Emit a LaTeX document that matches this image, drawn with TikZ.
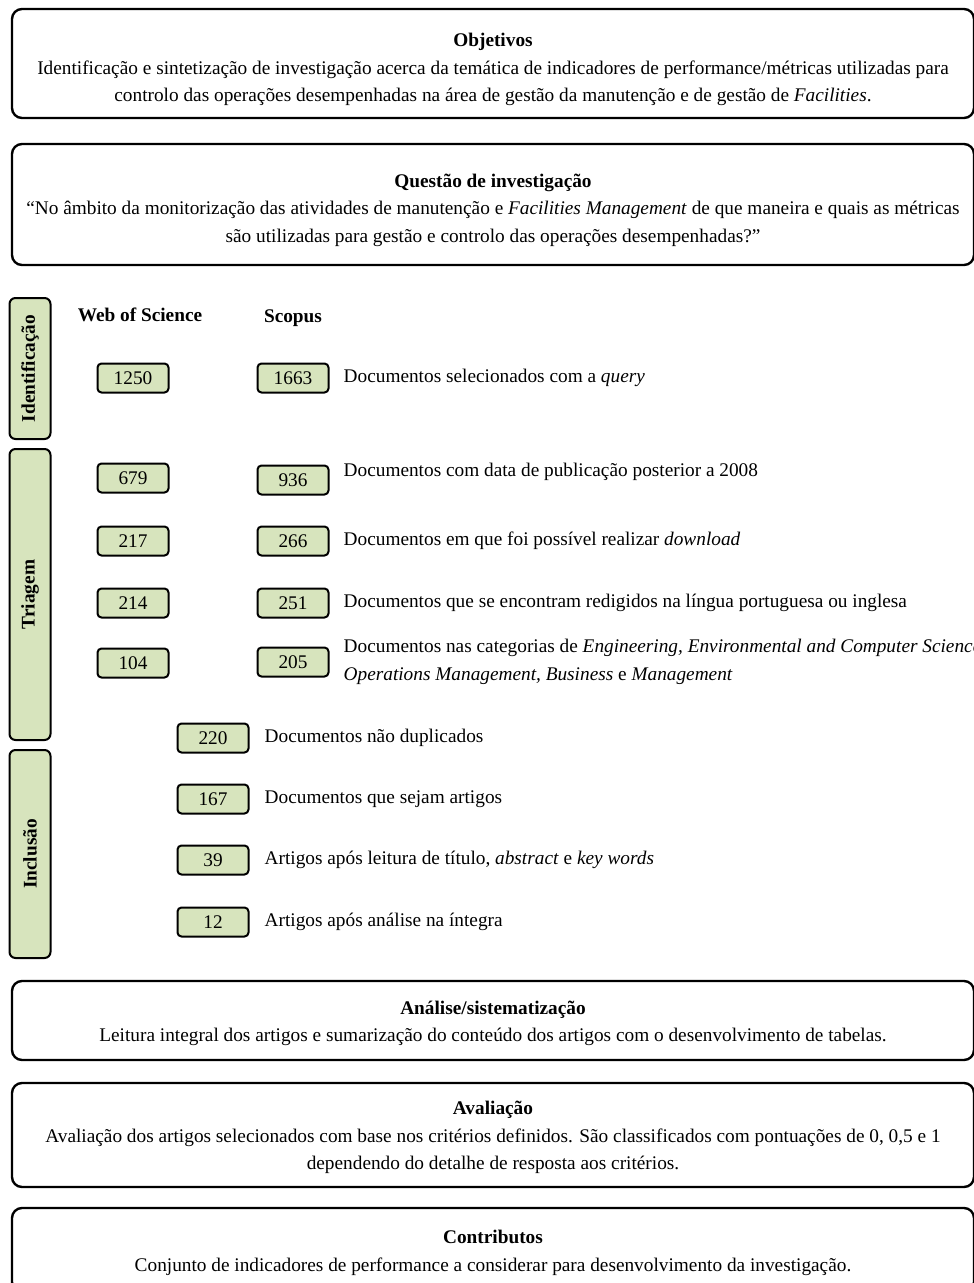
\documentclass[tikz,border=0pt]{standalone}
\usepackage{fontspec}
\setmainfont{Liberation Serif}
\usetikzlibrary{positioning}
\definecolor{stagegreen}{RGB}{215,228,189}

\begin{document}
\begin{tikzpicture}[x=1pt,y=-1pt,font=\fontsize{19.3}{27.5}\selectfont,node distance=14pt,
  bigbox/.style={draw,line width=2.4pt,rounded corners=10pt,minimum width=962pt,align=center,inner xsep=4pt},
  stage/.style={draw,line width=2pt,rounded corners=6pt,fill=stagegreen,minimum height=41pt,rotate=90,font=\fontsize{19.3}{22}\selectfont\bfseries},
  num/.style={draw,line width=2pt,rounded corners=4pt,fill=stagegreen,minimum width=71pt,minimum height=29pt,inner sep=0pt},
  lbl/.style={align=left,inner sep=0pt}]
  \useasboundingbox (0,0) rectangle (974,1283);
  % top boxes
  \node[bigbox,minimum height=109pt] (obj) at (493,63.5) {\rule{0pt}{26pt}\textbf{Objetivos}\\Identificação e sintetização de investigação acerca da temática de indicadores de performance/métricas utilizadas para\\controlo das operações desempenhadas na área de gestão da manutenção e de gestão de \textit{Facilities}.};
  \node[bigbox,minimum height=121pt] (quest) at (493,204.5) {\rule{0pt}{25pt}\textbf{Questão de investigação}\\“No âmbito da monitorização das atividades de manutenção e \textit{Facilities Management} de que maneira e quais as métricas\\são utilizadas para gestão e controlo das operações desempenhadas?”};
  % stages
  \node[stage,minimum width=141pt] (ident) at (30,368.5) {Identificação};
  \node[stage,minimum width=291pt] (triag) at (30,594.5) {Triagem};
  \node[stage,minimum width=208pt] (incl) at (30,854) {Inclusão};
  \node[font=\fontsize{19.3}{22}\selectfont\bfseries] (wos) at (140,315) {Web of Science};
  \node[font=\fontsize{19.3}{22}\selectfont\bfseries] (scop) at (293,318) {Scopus};
  % counts per database
  \node[num] (w1) at (133,378) {1250};
  \node[num] (s1) at (293,378) {1663};
  \node[num] (w2) at (133,478) {679};
  \node[num] (s2) at (293,480) {936};
  \node[num] (w3) at (133,541) {217};
  \node[num] (s3) at (293,541) {266};
  \node[num] (w4) at (133,603) {214};
  \node[num] (s4) at (293,603) {251};
  \node[num] (w5) at (133,663) {104};
  \node[num] (s5) at (293,662) {205};
  \node[lbl,right=of s1] (t1) {Documentos selecionados com a \textit{query}};
  \node[lbl,right=of s2,yshift=8pt] (t2) {Documentos com data de publicação posterior a 2008};
  \node[lbl,right=of s3] (t3) {Documentos em que foi possível realizar \textit{download}};
  \node[lbl,right=of s4] (t4) {Documentos que se encontram redigidos na língua portuguesa ou inglesa};
  \node[lbl,right=of s5] (t5) {Documentos nas categorias de \textit{Engineering, Environmental and Computer Science,}\\\textit{Operations Management, Business} e \textit{Management}};
  % merged counts
  \node[num] (m1) at (213,738) {220};
  \node[num] (m2) at (213,799) {167};
  \node[num] (m3) at (213,860) {39};
  \node[num] (m4) at (213,922) {12};
  \node[lbl,right=15pt of m1] (u1) {Documentos não duplicados};
  \node[lbl,right=15pt of m2] (u2) {Documentos que sejam artigos};
  \node[lbl,right=15pt of m3] (u3) {Artigos após leitura de título, \textit{abstract} e \textit{key words}};
  \node[lbl,right=15pt of m4] (u4) {Artigos após análise na íntegra};
  % bottom boxes
  \node[bigbox,minimum height=79pt] (anal) at (493,1020.5) {\rule{0pt}{19pt}\textbf{Análise/sistematização}\\Leitura integral dos artigos e sumarização do conteúdo dos artigos com o desenvolvimento de tabelas.};
  \node[bigbox,minimum height=104pt] (aval) at (493,1135) {\rule{0pt}{19pt}\textbf{Avaliação}\\Avaliação dos artigos selecionados com base nos critérios definidos. São classificados com pontuações de 0, 0,5 e 1\\dependendo do detalhe de resposta aos critérios.};
  \node[bigbox,minimum height=84pt] (contr) at (493,1250) {\rule{0pt}{19pt}\textbf{Contributos}\\Conjunto de indicadores de performance a considerar para desenvolvimento da investigação.};
\end{tikzpicture}
\end{document}
